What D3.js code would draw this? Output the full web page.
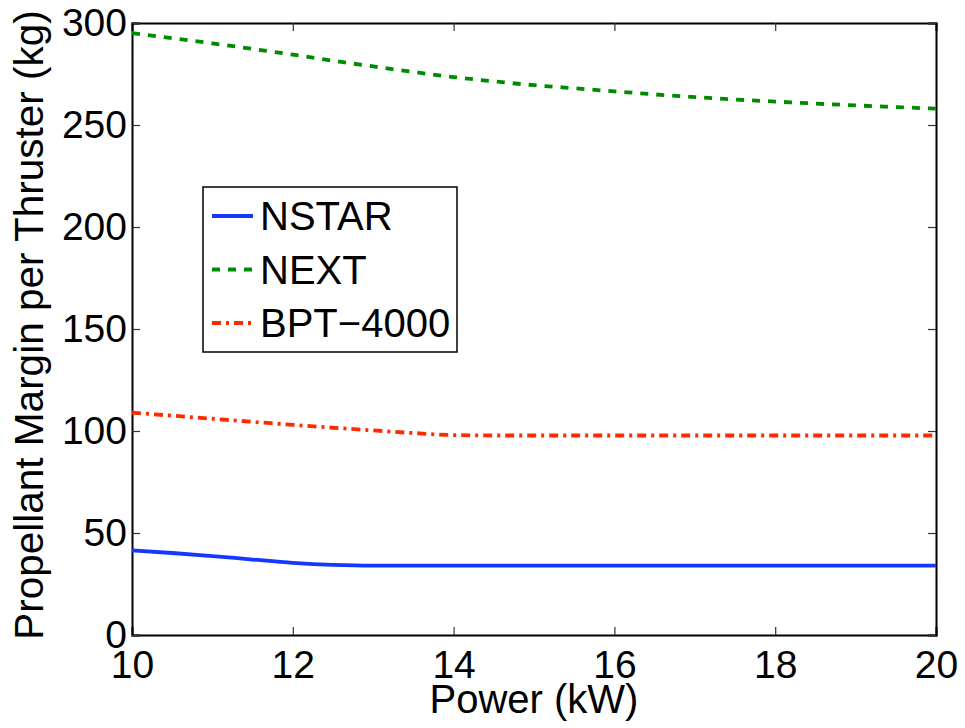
<!DOCTYPE html>
<html>
<head>
<meta charset="utf-8">
<script src="https://cdn.jsdelivr.net/npm/d3@7"></script>
<style>
  body { margin: 0; background: white; }
  svg text { font-family: "Liberation Sans", Arial, Helvetica, sans-serif; fill: black; }
</style>
</head>
<body>
<script>
const [w, h] = [965, 728];
const margin = { left: 132, right: 29, top: 23, bottom: 93 };

// data
const power = [10, 10.5, 11, 11.5, 12, 12.5, 13, 13.5, 14, 14.5, 15, 15.5, 16, 16.5, 17, 17.5, 18, 18.5, 19, 19.5, 20];
const nstar = [41.5, 40.2, 38.7, 37.0, 35.4, 34.4, 34.0, 34, 34, 34, 34, 34, 34, 34, 34, 34, 34, 34, 34, 34, 34];
const next = [295, 292.5, 290, 287.3, 284.5, 281.5, 278.7, 276, 273.5, 271.4, 269.5, 268, 266.5, 265, 263.7, 262.5, 261.5, 260.5, 259.6, 258.8, 258];
const bpt = [109, 107.5, 106, 104.5, 103, 101.6, 100.3, 99, 98, 97.8, 97.8, 97.8, 97.8, 97.8, 97.8, 97.8, 97.8, 97.8, 97.8, 97.8, 97.8];
const xTicks = [10, 12, 14, 16, 18, 20];
const yTicks = [0, 50, 100, 150, 200, 250, 300];

const series = [
  { name: 'NSTAR', values: nstar, color: '#1438ff', dash: null },
  { name: 'NEXT', values: next, color: '#008a00', dash: '8,8' },
  { name: 'BPT\u22124000', values: bpt, color: '#ff2a00', dash: '9,5,3,5' }
];

const svg = d3.select('body').append('svg')
  .attr('width', w)
  .attr('height', h);

const x = d3.scaleLinear().domain([10, 20]).range([margin.left, w - margin.right]);
const y = d3.scaleLinear().domain([0, 300]).range([h - margin.bottom, margin.top]);

const fs = 39;
const fsLabel = 40;

// axes, ticks point inward on all four sides
const tl = 8;
const axes = [
  { ax: d3.axisBottom(x).tickValues(xTicks).tickSize(-tl).tickPadding(15).tickFormat(d3.format('d')), t: `translate(0,${y(0)})` },
  { ax: d3.axisTop(x).tickValues(xTicks).tickSize(-tl).tickFormat(''), t: `translate(0,${y(300)})` },
  { ax: d3.axisLeft(y).tickValues(yTicks).tickSize(-tl).tickPadding(5).tickFormat(d3.format('d')), t: `translate(${x(10)},0)` },
  { ax: d3.axisRight(y).tickValues(yTicks).tickSize(-tl).tickFormat(''), t: `translate(${x(20)},0)` }
];
axes.forEach(a => {
  const g = svg.append('g').attr('transform', a.t).call(a.ax);
  g.select('.domain').attr('stroke', 'black').attr('stroke-width', 2);
  g.selectAll('.tick line').attr('stroke', '#333').attr('stroke-width', 1.2);
  g.selectAll('.tick text').attr('font-size', fs).attr('font-family', '"Liberation Sans", Arial, sans-serif');
});

const line = d3.line()
  .x((d, i) => x(power[i]))
  .y(d => y(d))
  .curve(d3.curveMonotoneX);

series.forEach(s => {
  svg.append('path')
    .datum(s.values)
    .attr('d', line)
    .attr('fill', 'none')
    .attr('stroke', s.color)
    .attr('stroke-width', 3.8)
    .attr('stroke-dasharray', s.dash);
});

// axis labels
svg.append('text')
  .attr('x', (x(10) + x(20)) / 2)
  .attr('y', 713)
  .attr('text-anchor', 'middle')
  .attr('font-size', fsLabel)
  .text('Power (kW)');

svg.append('text')
  .attr('transform', `translate(43,325) rotate(-90)`)
  .attr('text-anchor', 'middle')
  .attr('font-size', 40.5)
  .text('Propellant Margin per Thruster (kg)');

// legend
const legend = svg.append('g').attr('transform', 'translate(203,187)');
legend.append('rect')
  .attr('width', 254)
  .attr('height', 165)
  .attr('fill', 'white')
  .attr('stroke', 'black')
  .attr('stroke-width', 1.5);

const item = legend.selectAll('g.item')
  .data(series)
  .enter()
  .append('g')
  .attr('class', 'item')
  .attr('transform', (d, i) => `translate(0,${29 + i * 53.5})`);

item.append('line')
  .attr('x1', 9).attr('x2', 50)
  .attr('stroke', d => d.color)
  .attr('stroke-width', 3.8)
  .attr('stroke-dasharray', d => d.dash);

item.append('text')
  .attr('x', 57)
  .attr('y', 14)
  .attr('font-size', fsLabel)
  .text(d => d.name);
</script>
</body>
</html>
